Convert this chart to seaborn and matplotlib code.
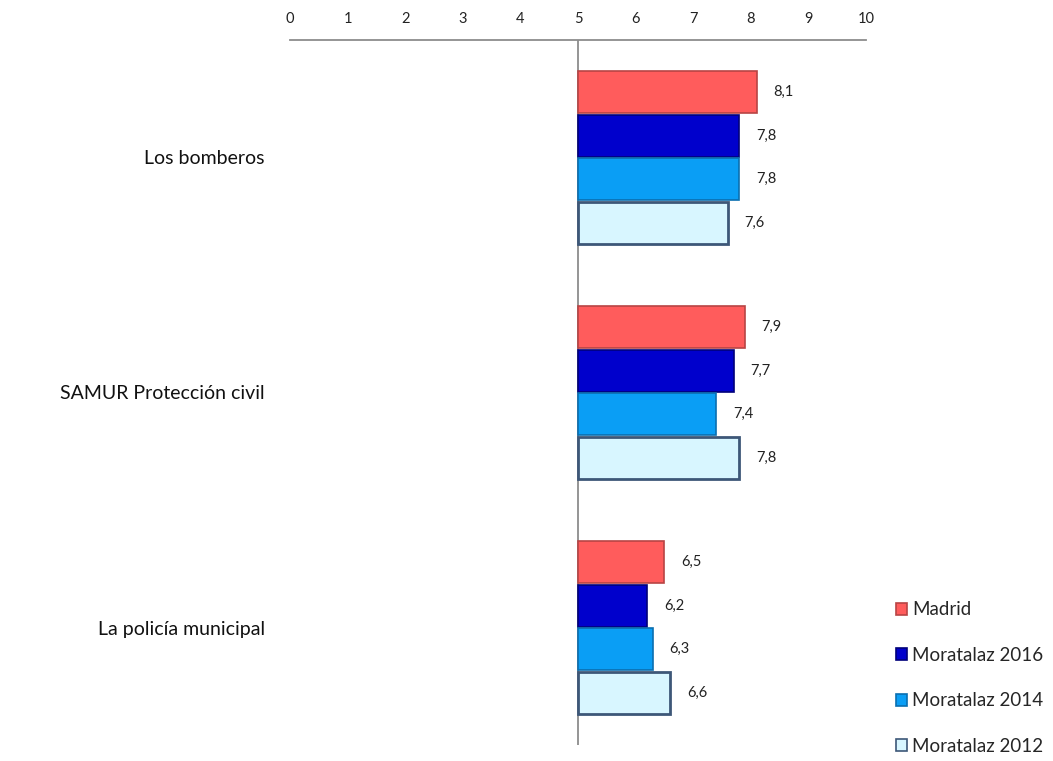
import numpy as np
import pandas as pd
import matplotlib
matplotlib.use('Agg')
import matplotlib.pyplot as plt
import seaborn as sns
from matplotlib.ticker import FuncFormatter

sns.set_style("white")
plt.rcParams['font.family'] = ['Lato', 'DejaVu Sans']

# data
servicios = ['Los bomberos', 'SAMUR Protección civil', 'La policía municipal']
series = ['Madrid', 'Moratalaz 2016', 'Moratalaz 2014', 'Moratalaz 2012']
madrid = [8.1, 7.9, 6.5]
moratalaz_2016 = [7.8, 7.7, 6.2]
moratalaz_2014 = [7.8, 7.4, 6.3]
moratalaz_2012 = [7.6, 7.8, 6.6]
base = 5  # bars start at 5

colores = ['#FF5C5C', '#0000CC', '#0A9EF5', '#D8F6FF']
bordes = ['#B84444', '#00007A', '#0A6FB0', '#3D5778']

rows = []
for serie, vals in zip(series, [madrid, moratalaz_2016, moratalaz_2014, moratalaz_2012]):
    for serv, v in zip(servicios, vals):
        rows.append({'servicio': serv, 'serie': serie, 'valor': v, 'delta': v - base})
df = pd.DataFrame(rows)

fig = plt.figure(figsize=(10.53, 7.61), dpi=100)
ax = fig.add_axes([0.2754, 0.021, 0.547, 0.9265])

sns.barplot(data=df, x='delta', y='servicio', hue='serie', orient='h',
            palette=colores, saturation=1, width=0.74, gap=0.04, ax=ax, legend=False)

for cont, ec, serie in zip(ax.containers, bordes, series):
    for p in cont:
        p.set_edgecolor(ec)
        p.set_linewidth(2.0 if serie == 'Moratalaz 2012' else 1.2)
    vals = df[df['serie'] == serie]['valor'].tolist()
    ax.bar_label(cont, labels=[f'{v:.1f}'.replace('.', ',') for v in vals],
                 padding=12, fontsize=10.5, color='#222222')

ax.set_xlim(-5, 5)
ax.set_ylim(2.5, -0.5)
ax.set_xticks(np.arange(-5, 6, 1))
ax.xaxis.set_major_formatter(FuncFormatter(lambda v, pos: f'{v + base:.0f}'))
ax.xaxis.tick_top()
ax.tick_params(axis='x', length=0, pad=10, labelsize=10.5, colors='#222222')
ax.tick_params(axis='y', length=0, pad=18, labelsize=14, colors='#111111')
ax.set_xlabel('')
ax.set_ylabel('')

for s in ['left', 'right', 'bottom']:
    ax.spines[s].set_visible(False)
ax.spines['top'].set_color('#8C8C8C')
ax.spines['top'].set_linewidth(1.3)
ax.axvline(0, color='#8C8C8C', lw=1.3, zorder=0)

handles = [plt.Rectangle((0, 0), 1, 1, facecolor=c, edgecolor=e, lw=1.2)
           for c, e in zip(colores, bordes)]
fig.legend(handles, series, loc='upper left', bbox_to_anchor=(0.835, 0.232),
           frameon=False, fontsize=13.5, handlelength=0.6, handleheight=0.6,
           handletextpad=0.25, labelspacing=1.52)

fig.savefig('out.png', dpi=100)
